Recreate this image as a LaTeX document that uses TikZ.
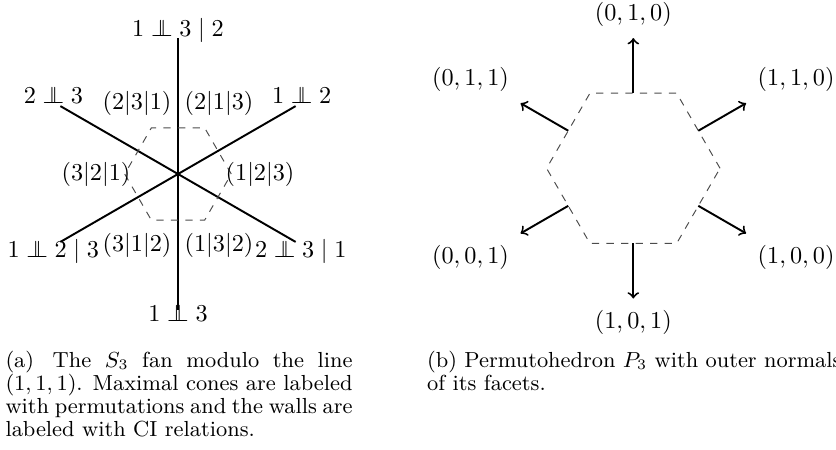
\documentclass[tikz,border=0pt]{standalone}
\usepackage{amsmath}
\usetikzlibrary{calc}
\newcommand{\indep}{\mathrel{\perp\!\!\!\!\perp}}
\begin{document}
\begin{tikzpicture}[
    ray/.style={thick},
    hexa/.style={dashed, black!70},
    normal/.style={thick, ->},
    coord/.style={inner sep=4.6pt},
    subcap/.style={anchor=north west, inner sep=0pt, align=justify, font=\fontsize{9}{9.5}\selectfont}
  ]
    \useasboundingbox (-2.582,-4.003) rectangle (9.544,2.524);

    % Draw the fan
    \coordinate (O) at (0,0);
    \foreach \a in {30,90,...,330} {
        \coordinate (r\a) at (\a:1.97);
        \draw[ray] (O) -- (r\a);
    }
    \draw[hexa] (0:0.773) -- (60:0.773) -- (120:0.773) -- (180:0.773) -- (240:0.773) -- (300:0.773) -- cycle;

    % Label the cones and the walls
    \foreach \a/\p in {0/{(1|2|3)}, 60/{(2|1|3)}, 120/{(2|3|1)}, 180/{(3|2|1)}, 240/{(3|1|2)}, 300/{(1|3|2)}}
        \node (p\a) at (\a:1.19) {$\p$};
    \node[anchor=base] (w90) at (0,1.99) {$1 \indep 3 \mid 2$};
    \node[anchor=base] (w150) at (-1.806,1.03) {$2 \indep 3$};
    \node[anchor=base] (w30) at (1.794,1.025) {$1 \indep 2$};
    \node[anchor=base] (w210) at (-1.809,-1.208) {$1 \indep 2 \mid 3$};
    \node[anchor=base] (w330) at (1.781,-1.208) {$2 \indep 3 \mid 1$};
    \node[anchor=base] (w270) at (0,-2.132) {$1 \indep 3$};

    % Draw the permutohedron and its outer normals
    \coordinate (C) at (6.604,0.083);
    \draw[hexa] ($(C)+(0:1.258)$) -- ($(C)+(60:1.258)$) -- ($(C)+(120:1.258)$) -- ($(C)+(180:1.258)$) -- ($(C)+(240:1.258)$) -- ($(C)+(300:1.258)$) -- cycle;
    \foreach \a/\pos/\v in {90/above/{(0,1,0)}, 30/above right/{(1,1,0)}, 150/above left/{(0,1,1)}, 210/below left/{(0,0,1)}, 270/below/{(1,0,1)}, 330/below right/{(1,0,0)}} {
        \coordinate (m\a) at ($(C)+(\a:1.089)$);
        \coordinate (t\a) at ($(C)+(\a:1.889)$);
        \draw[normal] (m\a) -- (t\a);
        \node[coord, \pos] (n\a) at (t\a) {$\v$};
    }

    % Captions
    \node[subcap, text width=143.2pt] (capa) at (-2.509,-2.56)
        {(a)\hskip2pt{} The $S_3$ fan modulo the line\linebreak $(1,1,1)$. Maximal cones are labeled\linebreak with permutations and the walls are\linebreak labeled with CI relations.};
    \node[subcap, text width=171pt] (capb) at (3.607,-2.56)
        {(b) Permutohedron $P_3$ with outer normals\linebreak of its facets.};
\end{tikzpicture}
\end{document}
